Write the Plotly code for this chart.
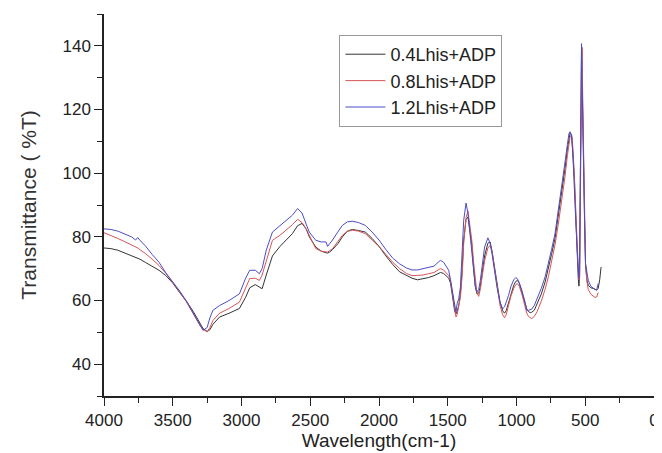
import plotly.graph_objects as go

wavenumber = [4000, 3950, 3900, 3850, 3800, 3770, 3755, 3740, 3700, 3650, 3600, 3550, 3500, 3450,
              3400, 3350, 3300, 3280, 3250, 3230, 3208, 3160, 3090, 3015, 2970, 2940, 2900, 2870,
              2850, 2820, 2775, 2720, 2676, 2630, 2592, 2560, 2530, 2507, 2460, 2420, 2385, 2374,
              2360, 2338, 2300, 2266, 2230, 2195, 2150, 2100, 2050, 2000, 1950, 1900, 1850, 1800,
              1760, 1720, 1680, 1640, 1600, 1570, 1553, 1530, 1510, 1493, 1480, 1464, 1449, 1440,
              1432, 1420, 1408, 1395, 1384, 1367, 1353, 1336, 1325, 1312, 1300, 1288, 1275, 1263,
              1248, 1232, 1208, 1192, 1178, 1160, 1142, 1120, 1101, 1087, 1075, 1058, 1040, 1020,
              1005, 993, 980, 961, 940, 925, 913, 900, 889, 870, 850, 820, 792, 768, 745, 720,
              696, 670, 647, 630, 618, 610, 599, 590, 580, 570, 560, 551, 546, 541, 536, 531,
              527, 523, 518, 512, 505, 498, 488, 478, 460, 442, 430, 417, 406, 395, 385]

t_04 = [76.5, 76.3, 75.8, 75.0, 74.0, 73.6, 73.3, 73.0, 72.0, 70.8, 69.5, 67.8, 65.5, 62.5,
        59.7, 56.5, 52.5, 51.2, 50.3, 50.8, 52.5, 54.8, 56.0, 57.5, 61.0, 64.0, 65.0, 64.2,
        63.7, 68.0, 74.0, 77.0, 78.9, 81.0, 83.5, 84.2, 82.5, 80.0, 76.8, 75.5, 75.0, 74.9,
        75.2, 76.0, 77.8, 80.0, 81.8, 82.3, 82.0, 81.5, 79.5, 77.0, 74.0, 71.3, 69.0, 67.8,
        67.0, 66.5, 66.8, 67.2, 67.8, 68.5, 68.8, 68.5, 67.8, 67.0, 65.5, 61.5, 56.5, 55.8,
        56.5, 58.5, 62.0, 70.0, 79.0, 85.5, 86.2, 81.0, 77.5, 70.0, 64.5, 62.1, 62.3, 64.5,
        69.5, 74.0, 78.0, 78.4, 75.5, 70.5, 65.0, 59.5, 56.8, 56.0, 56.8, 59.5, 62.5, 64.8,
        66.0, 66.3, 65.5, 63.0, 59.5, 57.3, 56.5, 56.2, 56.3, 57.0, 58.8, 62.0, 65.8, 69.8,
        74.5, 79.5, 86.5, 94.0, 101.5, 107.5, 111.5, 112.7, 112.0, 107.0, 99.0, 87.5, 75.0,
        67.0, 64.5, 68.0, 97.0, 124.0, 140.0, 132.0, 115.0, 103.0, 86.0, 71.0, 66.5, 64.8,
        64.0, 63.8, 63.5, 63.3, 63.8, 66.5, 70.5]

t_08 = [81.3, 80.5, 79.5, 78.5, 77.5, 76.8, 76.5, 76.0, 74.8, 73.0, 71.0, 68.5, 65.8, 62.8,
        59.5, 55.8, 52.0, 51.0, 50.1, 51.5, 53.7, 56.0, 57.5, 59.5, 64.0, 66.9, 67.0, 66.3,
        68.0, 72.6, 78.9, 80.5, 82.1, 83.8, 85.5, 84.5, 82.5, 80.5, 76.3, 75.5, 75.3, 75.2,
        75.6, 76.3, 78.5, 80.5, 81.7, 82.1, 81.8, 81.0, 79.0, 77.0, 74.5, 72.0, 70.0, 68.5,
        67.8, 67.8, 68.0, 68.4, 68.8, 69.6, 70.0, 69.6, 68.8, 67.8, 66.3, 62.0, 57.0, 54.8,
        55.5, 58.0, 61.0, 68.0, 78.0, 86.0, 88.1, 82.5, 78.9, 72.0, 66.0, 62.5, 61.3, 63.5,
        68.0, 72.5, 76.5, 77.3, 75.5, 70.5, 64.5, 58.5, 55.5, 54.6, 55.5, 58.5, 61.5, 63.8,
        65.0, 65.3, 64.5, 62.0, 58.5, 56.0, 55.0, 54.5, 54.3, 55.0, 56.5, 59.8, 63.5, 67.5,
        72.0, 77.5, 84.0, 91.5, 99.0, 105.5, 109.5, 111.5, 111.9, 108.0, 100.0, 88.0, 78.0,
        70.0, 66.5, 66.5, 90.0, 118.0, 135.0, 139.5, 122.0, 105.0, 88.0, 72.0, 66.0, 63.5,
        62.0, 61.3, 61.0, 61.1, 62.5, None, None]

t_12 = [82.5, 82.3, 81.8, 81.0, 80.0, 79.0, 79.8, 79.0, 77.2, 74.5, 72.0, 68.7, 66.0, 63.0,
        59.8, 56.0, 52.2, 50.6, 51.5, 54.5, 56.9, 58.4, 60.0, 62.1, 67.0, 69.5, 69.5, 68.4,
        70.0, 75.8, 81.5, 83.5, 85.2, 86.8, 88.9, 87.5, 84.0, 81.5, 78.9, 78.4, 78.4, 77.0,
        77.8, 79.0, 81.5, 83.6, 84.7, 84.9, 84.5, 83.6, 81.5, 79.0, 76.0, 73.3, 71.5, 70.2,
        69.6, 69.6, 70.0, 70.3, 70.8, 72.0, 72.6, 72.0, 70.8, 69.5, 66.5, 62.1, 57.4, 56.3,
        59.0, 60.6, 64.2, 75.0, 85.2, 90.6, 87.3, 80.0, 75.0, 68.4, 64.5, 62.6, 63.5, 66.3,
        71.5, 76.8, 79.7, 78.0, 74.7, 69.0, 64.2, 59.5, 57.4, 58.0, 59.3, 61.6, 64.5, 66.5,
        67.2, 66.8, 65.5, 63.2, 59.8, 56.9, 56.9, 57.0, 57.3, 58.5, 60.5, 63.8, 67.4, 71.6,
        76.0, 81.0, 88.0, 95.5, 103.5, 109.0, 112.5, 113.0, 111.4, 106.0, 97.8, 86.0, 76.8,
        69.0, 66.9, 72.0, 103.0, 128.0, 140.7, 128.0, 112.0, 103.0, 85.0, 71.6, 68.0, 66.3,
        64.5, 63.7, 63.5, 63.2, 65.3, None, None]

series_names = ["0.4Lhis+ADP", "0.8Lhis+ADP", "1.2Lhis+ADP"]
series_values = [t_04, t_08, t_12]
series_colors = ["#333333", "#d85555", "#4c4cc8"]

x_ticks = [4000, 3500, 3000, 2500, 2000, 1500, 1000, 500, 0]
y_ticks = [40, 60, 80, 100, 120, 140]

fig = go.Figure()
for name, vals, col in zip(series_names, series_values, series_colors):
    fig.add_trace(go.Scatter(x=wavenumber, y=vals, mode="lines", name=name,
                             line=dict(color=col, width=1)))

font_family = "Liberation Sans, Arial, sans-serif"
axis_common = dict(showgrid=False, zeroline=False, showline=True, linecolor="#222",
                   linewidth=1.5, ticks="outside", ticklen=8, tickwidth=1.2, tickcolor="#222",
                   tickfont=dict(size=17, color="#222", family=font_family), mirror=False)

fig.update_xaxes(range=[4000, 0], tickvals=x_ticks, ticktext=[str(v) for v in x_ticks],
                 minor=dict(dtick=250, ticks="outside", ticklen=5, tickcolor="#222", tickwidth=1.2),
                 title=dict(text="Wavelength(cm-1)", font=dict(size=19, color="#222", family=font_family),
                            standoff=5),
                 **axis_common)
fig.update_yaxes(range=[30, 150], tickvals=y_ticks, ticktext=[str(v) for v in y_ticks],
                 minor=dict(dtick=10, tick0=30, ticks="outside", ticklen=5, tickcolor="#222", tickwidth=1.2),
                 title=dict(text="Transmittance ( %T)", font=dict(size=21, color="#333", family=font_family),
                            standoff=20),
                 **axis_common)

# the page body adds an 8px margin, so the figure is sized to fit the 662x453 window
fig.update_layout(
    width=654, height=445,
    margin=dict(l=96, r=8, t=6, b=57, autoexpand=False),
    paper_bgcolor="white", plot_bgcolor="white",
    font=dict(family=font_family, color="#222"),
    legend=dict(x=0.428, y=0.945, xanchor="left", yanchor="top",
                bgcolor="white", bordercolor="#999", borderwidth=1,
                font=dict(size=18, color="#222", family=font_family),
                tracegroupgap=0, itemwidth=40),
    showlegend=True,
)

fig.write_html("out.html")
